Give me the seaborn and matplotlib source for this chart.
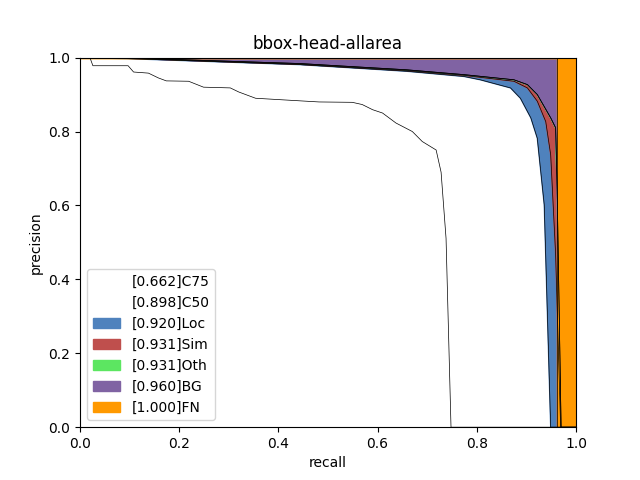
import numpy as np
import matplotlib
matplotlib.use("Agg")
import matplotlib.pyplot as plt
import seaborn as sns

# curves: recall / precision
c75_r = [0, 0.02, 0.026, 0.097, 0.108, 0.138, 0.158, 0.174, 0.219, 0.249, 0.303, 0.32, 0.354,
         0.482, 0.549, 0.569, 0.59, 0.61, 0.637, 0.67, 0.69, 0.718, 0.728, 0.738, 0.748, 1.0]
c75_p = [1.0, 1.0, 0.978, 0.978, 0.961, 0.958, 0.945, 0.937, 0.936, 0.92, 0.918, 0.907, 0.89,
         0.88, 0.879, 0.873, 0.859, 0.85, 0.823, 0.8, 0.773, 0.75, 0.69, 0.511, 0.0, 0.0]
c50_r = [0, 0.10, 0.443, 0.659, 0.774, 0.807, 0.868, 0.888, 0.909, 0.922, 0.936, 0.949, 1.0]
c50_p = [1.0, 0.997, 0.981, 0.963, 0.949, 0.94, 0.918, 0.89, 0.837, 0.782, 0.602, 0.0, 0.0]
loc_r = [0, 0.10, 0.443, 0.659, 0.774, 0.875, 0.902, 0.922, 0.939, 0.949, 0.959, 0.969, 1.0]
loc_p = [1.0, 0.998, 0.982, 0.965, 0.952, 0.936, 0.918, 0.882, 0.827, 0.737, 0.466, 0.0, 0.0]
sim_r = [0, 0.10, 0.443, 0.659, 0.774, 0.875, 0.902, 0.922, 0.949, 0.959, 0.962, 0.970, 1.0]
sim_p = [1.0, 0.999, 0.984, 0.967, 0.954, 0.94, 0.927, 0.9, 0.837, 0.81, 0.643, 0.0, 0.0]
oth_r = sim_r
oth_p = sim_p
bg_r = [0, 0.962, 0.962, 1.0]
bg_p = [1.0, 1.0, 0.0, 0.0]
fn_r = [0, 1.0]
fn_p = [1.0, 1.0]

names = ["C75", "C50", "Loc", "Sim", "Oth", "BG", "FN"]
aps = [0.662, 0.898, 0.920, 0.931, 0.931, 0.960, 1.000]
colors = ["white", "white", (0.31, 0.51, 0.74), (0.75, 0.31, 0.30),
          (0.36, 0.90, 0.38), (0.50, 0.39, 0.64), (1.0, 0.6, 0.0)]
curves = [(c75_r, c75_p), (c50_r, c50_p), (loc_r, loc_p), (sim_r, sim_p),
          (oth_r, oth_p), (bg_r, bg_p), (fn_r, fn_p)]

fig, ax = plt.subplots(figsize=(6.4, 4.8), dpi=100)
prev_r, prev_p = [0, 1.0], [0.0, 0.0]
for (r, p), name, ap, col in zip(curves, names, aps, colors):
    xs = np.concatenate([r, prev_r[::-1]])
    ys = np.concatenate([p, prev_p[::-1]])
    ax.fill(xs, ys, color=col, label=f"[{ap:.3f}]{name}")
    sns.lineplot(x=r, y=p, color="black", linewidth=0.5, ax=ax, sort=False, estimator=None)
    prev_r, prev_p = list(r), list(p)

ax.set_xlim(0, 1)
ax.set_ylim(0, 1)
ax.set_xlabel("recall")
ax.set_ylabel("precision")
ax.set_title("bbox-head-allarea")
ax.legend(loc="lower left")
fig.savefig("out.png")
